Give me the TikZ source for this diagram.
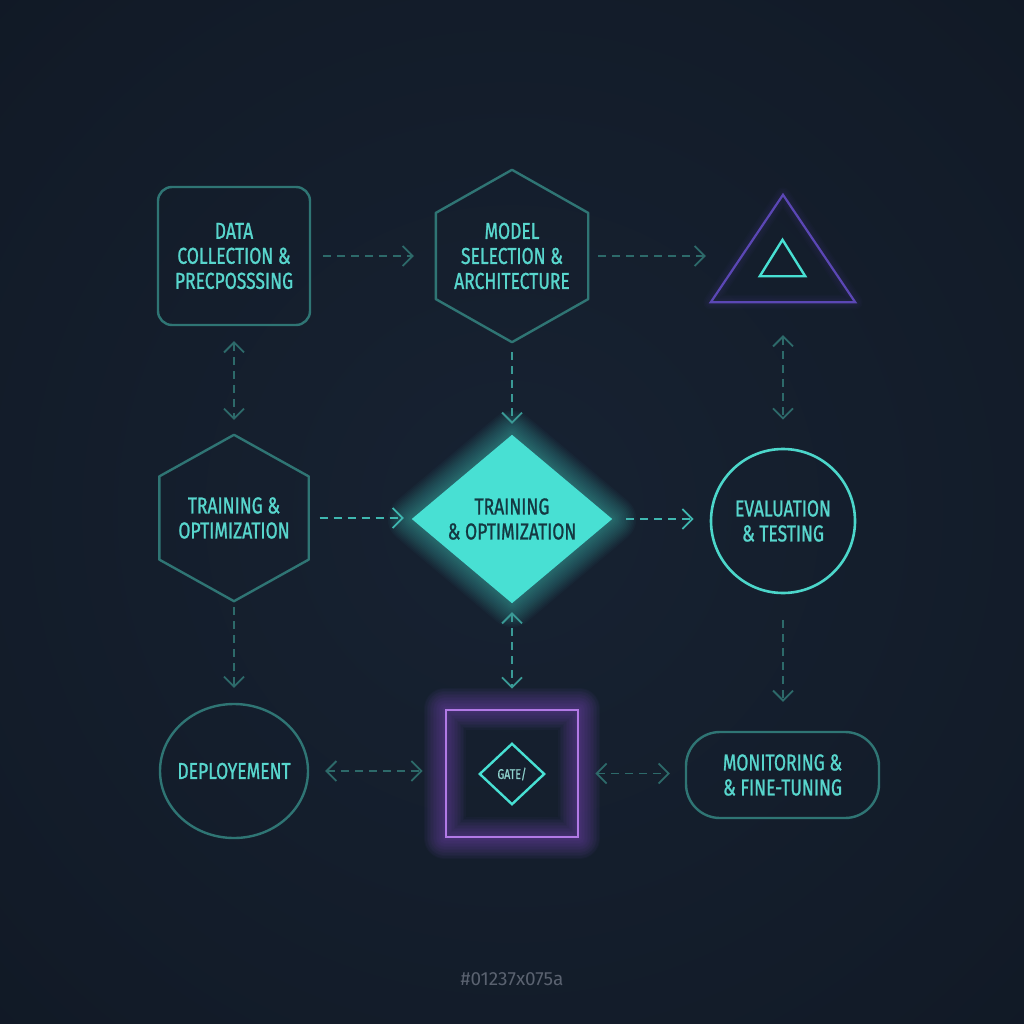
\documentclass[tikz,border=0pt]{standalone}
\usepackage{fontspec}
\usetikzlibrary{arrows.meta,shapes.geometric,calc}
\newfontfamily\lblfont{Fira Sans}[FakeStretch=0.76,FakeBold=1.0]
\newfontfamily\ftfont{Fira Sans}
\definecolor{bgin}{HTML}{172232}
\definecolor{bgmid}{HTML}{121B28}
\definecolor{bgout}{HTML}{0A0E15}
\definecolor{dimline}{HTML}{2F7574}
\definecolor{txtc}{HTML}{58D6CD}
\definecolor{brightc}{HTML}{48E0D3}
\definecolor{circc}{HTML}{4CD6CA}
\definecolor{darktxt}{HTML}{143841}
\definecolor{purpT}{HTML}{5B47B5}
\definecolor{purpS}{HTML}{B27AE6}
\definecolor{purpG}{HTML}{9B5DE5}
\definecolor{arrdim}{HTML}{2D6A6A}
\definecolor{arrmid}{HTML}{3A9A96}
\definecolor{arrbright}{HTML}{3FB7B0}
\definecolor{gatetxt}{HTML}{8FD3CE}
\definecolor{foot}{HTML}{5A6270}
\pgfdeclareradialshading{bgshade}{\pgfpoint{0bp}{0bp}}{color(0bp)=(bgin); color(30bp)=(bgmid); color(71bp)=(bgout)}
\pgfdeclarelayer{backg}
\pgfdeclarelayer{glow}
\pgfsetlayers{backg,glow,main}
\newcommand\hexpath[1]{(#1.north) -- ($(#1.north east)!0.25!(#1.south east)$) -- ($(#1.north east)!0.75!(#1.south east)$) -- (#1.south) -- ($(#1.north west)!0.75!(#1.south west)$) -- ($(#1.north west)!0.25!(#1.south west)$) -- cycle}
\newcommand\diapath[1]{(#1.north) -- (#1.east) -- (#1.south) -- (#1.west) -- cycle}
\tikzset{
  lbl/.style={font=\lblfont\fontsize{23}{25}\selectfont, text=txtc, align=center, inner sep=0pt},
  shp/.style={line width=2.4pt, line join=round},
  conn/.style={draw=arrdim, line width=1.8pt, dash pattern=on 8pt off 6pt},
  onehead/.style={-{Straight Barb[length=10pt,width=20pt]}},
  twohead/.style={{Straight Barb[length=10pt,width=20pt]}-{Straight Barb[length=10pt,width=20pt]}}
}
\begin{document}
\begin{tikzpicture}[x=1pt,y=-1pt]
\useasboundingbox (0,0) rectangle (1024,1024);
\begin{pgfonlayer}{backg}
\shade[shading=bgshade] (0,0) rectangle (1024,1024);
\end{pgfonlayer}

% nodes
\node[lbl, draw=dimline, shp, rounded corners=14pt, minimum width=152pt, minimum height=138pt] (data) at (234,256) {DATA\\COLLECTION \&\\PRECPOSSSING};
\node[lbl, minimum width=152pt, minimum height=172pt] (model) at (512,256) {MODEL\\SELECTION \&\\ARCHITECTURE};
\node[inner sep=0pt, minimum width=144pt, minimum height=107pt] (tri) at (783,248.5) {};
\node[inner sep=0pt, minimum width=45pt, minimum height=36pt] (triin) at (782.5,258) {};
\node[lbl, minimum width=149pt, minimum height=166pt] (trainL) at (234,518) {TRAINING \&\\OPTIMIZATION};
\node[lbl, text=darktxt, minimum width=200pt, minimum height=168pt] (trainC) at (512,519) {TRAINING\\\& OPTIMIZATION};
\node[lbl, circle, draw=circc, line width=2.6pt, minimum size=144pt] (evalN) at (783,521) {EVALUATION\\\& TESTING};
\node[lbl, ellipse, draw=dimline, shp, inner xsep=-24pt, minimum width=148pt, minimum height=134pt] (deploy) at (234,771) {DEPLOYEMENT};
\node[inner sep=0pt, draw=purpS, line width=2.6pt, minimum width=132pt, minimum height=127pt] (gatebox) at (512,773.5) {};
\node[lbl, font=\lblfont\fontsize{14}{16}\selectfont, text=gatetxt, minimum width=64pt, minimum height=60pt] (gate) at (512,774) {GATE/};
\node[lbl, draw=dimline, shp, rounded corners=34pt, minimum width=193pt, minimum height=86pt] (monitor) at (782.5,775) {MONITORING \&\\\& FINE-TUNING};
\node[font=\ftfont\fontsize{19}{21}\selectfont, text=foot] (footer) at (512,979) {\#01237x075a};

% shapes and glows
\begin{pgfonlayer}{glow}
\foreach \i in {1,...,16} {
  \draw[brightc, line width=3*\i pt, line join=round, opacity=0.03] \diapath{trainC};
}
\fill[brightc] \diapath{trainC};
\foreach \i in {1,...,14} {
  \draw[purpG, line width=3*\i pt, line join=round, opacity=0.035] (gatebox.north west) rectangle (gatebox.south east);
}
\foreach \i in {1,...,5} {
  \draw[purpT, line width=3*\i pt, line join=round, opacity=0.03] (tri.north) -- (tri.south east) -- (tri.south west) -- cycle;
}
\draw[dimline, shp] \hexpath{model};
\draw[dimline, shp] \hexpath{trainL};
\draw[purpT, line width=2.2pt, line join=miter] (tri.north) -- (tri.south east) -- (tri.south west) -- cycle;
\draw[brightc, line width=2.4pt, line join=miter] (triin.north) -- (triin.south east) -- (triin.south west) -- cycle;
\draw[brightc, line width=2.4pt, line join=miter] \diapath{gate};
\end{pgfonlayer}

% connectors
\draw[conn, onehead, shorten <=12pt, shorten >=22pt] (data) -- (model);
\draw[conn, onehead, shorten <=10pt, shorten >=5pt] (model.east) -- (model.east -| tri.west);
\draw[conn, twohead, shorten <=15pt, shorten >=15pt] (data) -- (trainL);
\draw[conn, draw=arrmid, onehead, shorten <=10pt, shorten >=11pt] (model) -- (trainC);
\draw[conn, twohead, shorten <=33pt, shorten >=28pt] (tri.south) -- (evalN.north);
\draw[conn, draw=arrbright, onehead, shorten <=11pt, shorten >=8pt] (trainL.east) -- (trainL.east -| trainC.west);
\draw[conn, draw=arrbright, onehead, shorten <=14pt, shorten >=16pt] (trainC.east) -- (trainC.east -| evalN.west);
\draw[conn, onehead, shorten <=6pt, shorten >=15pt] (trainL) -- (deploy);
\draw[conn, draw=arrmid, twohead, shorten <=9pt, shorten >=20pt] (trainC.south) -- (gatebox.north);
\draw[conn, onehead, shorten <=26pt, shorten >=29pt] (evalN.south) -- (evalN.south |- monitor.north);
\draw[conn, twohead, shorten <=16pt, shorten >=22pt] (deploy.east) -- (deploy.east -| gatebox.west);
\draw[conn, twohead, shorten <=16pt, shorten >=15pt] (gatebox.east) -- (gatebox.east -| monitor.west);
\end{tikzpicture}
\end{document}
